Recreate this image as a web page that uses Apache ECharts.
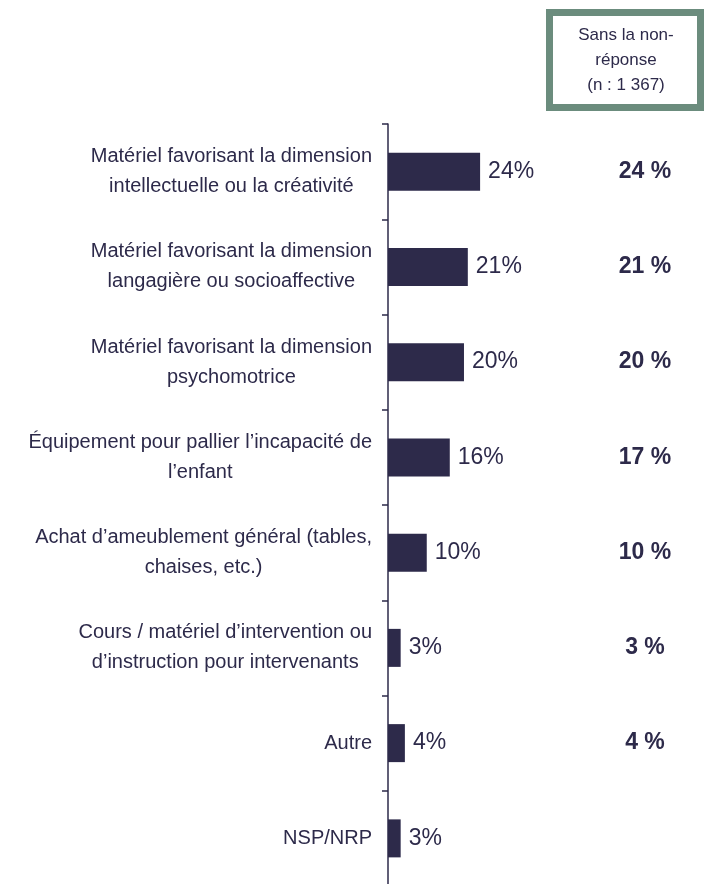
<!DOCTYPE html>
<html>
<head>
<meta charset="utf-8">
<script src="https://cdn.jsdelivr.net/npm/echarts@6/dist/echarts.min.js"></script>
<style>
html,body{margin:0;padding:0;background:#fff;}
#chart{width:706px;height:884px;}
</style>
</head>
<body>
<div id="chart"></div>
<script>
const categories = [
  "Matériel favorisant la dimension\nintellectuelle ou la créativité",
  "Matériel favorisant la dimension\nlangagière ou socioaffective",
  "Matériel favorisant la dimension\npsychomotrice",
  "Équipement pour pallier l’incapacité de\nl’enfant",
  "Achat d’ameublement général (tables,\nchaises, etc.)",
  "Cours / matériel d’intervention ou\nd’instruction pour intervenants",
  "Autre",
  "NSP/NRP"
];
const values = [24, 20.8, 19.8, 16.1, 10.1, 3.3, 4.4, 3.3];
const valueLabels = ["24%", "21%", "20%", "16%", "10%", "3%", "4%", "3%"];
const sansNonReponse = ["24 %", "21 %", "20 %", "17 %", "10 %", "3 %", "4 %", ""];
const boxLines = ["Sans la non-", "réponse", "(n : 1 367)"];

const dark = '#2d2a4a';
const font = '"Liberation Sans", Arial, sans-serif';

const chart = echarts.init(document.getElementById('chart'), null, {renderer: 'canvas'});
chart.setOption({
  backgroundColor: '#ffffff',
  animation: false,
  grid: {left: 388, right: 11, top: 124, height: 762, containLabel: false, outerBoundsMode: 'none'},
  xAxis: {type: 'value', min: 0, max: 80, show: false},
  yAxis: [
    {
      type: 'category',
      data: categories,
      inverse: true,
      position: 'left',
      axisLine: {show: true, lineStyle: {color: dark, width: 1.5}},
      axisTick: {show: true, length: 6, lineStyle: {color: dark, width: 1.5}},
      axisLabel: {
        margin: 16,
        fontFamily: font,
        fontSize: 20,
        color: dark,
        lineHeight: 30,
        formatter: function (v) { return v.split('\n').map(s => '{c|' + s + '}').join('\n'); },
        rich: {c: {align: 'center', fontFamily: font, fontSize: 20, color: dark, lineHeight: 30}}
      }
    },
    {
      type: 'category',
      data: sansNonReponse,
      inverse: true,
      position: 'right',
      axisLine: {show: false},
      axisTick: {show: false},
      axisLabel: {
        inside: true,
        margin: 50,
        align: 'center',
        fontFamily: font,
        fontSize: 23,
        fontWeight: 'bold',
        color: dark
      }
    }
  ],
  series: [{
    type: 'bar',
    data: values,
    yAxisIndex: 0,
    barWidth: 38,
    itemStyle: {color: dark},
    label: {
      show: true,
      position: 'right',
      distance: 8,
      fontFamily: font,
      fontSize: 23,
      color: dark,
      formatter: function (p) { return valueLabels[p.dataIndex]; }
    }
  }],
  graphic: [
    {
      type: 'rect',
      shape: {x: 549.5, y: 12.5, width: 151, height: 95},
      style: {fill: '#ffffff', stroke: '#6b8c7d', lineWidth: 7}
    },
    {
      type: 'text',
      x: 626, y: 60,
      style: {
        text: boxLines.join('\n'),
        fontFamily: font,
        fontSize: 17,
        lineHeight: 25,
        fill: dark,
        align: 'center',
        verticalAlign: 'middle'
      }
    }
  ]
});
</script>
</body>
</html>
